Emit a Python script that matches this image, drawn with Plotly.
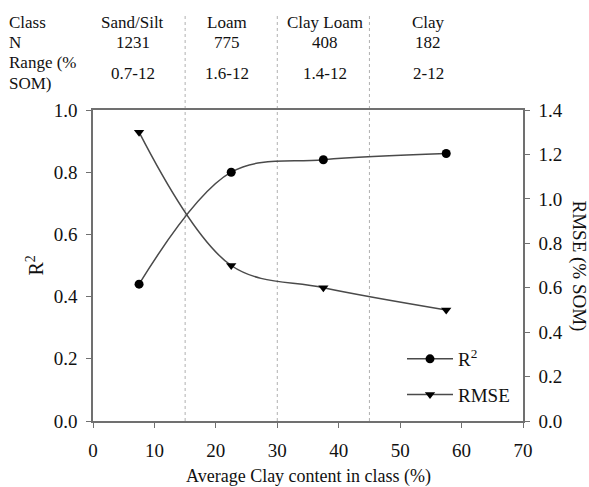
import plotly.graph_objects as go

# Data
clay_x = [7.5, 22.5, 37.5, 57.5]
r2_vals = [0.44, 0.80, 0.84, 0.86]
rmse_vals = [1.30, 0.70, 0.60, 0.50]
class_names = ["Sand/Silt", "Loam", "Clay Loam", "Clay"]
class_n = ["1231", "775", "408", "182"]
class_range = ["0.7-12", "1.6-12", "1.4-12", "2-12"]
class_label_x = [6.5, 21.8, 37.7, 54.6]
class_bounds = [15, 30, 45]

W, H = 589, 487
L, R, T, B = 93, 66, 110, 66
PH = H - T - B
PW = W - L - R

def py(ypix):
    return (H - B - ypix) / PH

def px(xpix):
    return (xpix - L) / PW

FONT = "Liberation Serif"
TXT = "#111111"
AX = "#707070"

fig = go.Figure()
fig.add_trace(go.Scatter(
    x=clay_x, y=r2_vals, name="R<sup>2</sup>", mode="lines+markers",
    line=dict(color="#4a4a4a", width=1.5, shape="spline", smoothing=1.0),
    marker=dict(symbol="circle", size=9, color="black"),
    legendgroup="a", yaxis="y"))
fig.add_trace(go.Scatter(
    x=clay_x, y=rmse_vals, name="RMSE", mode="lines+markers",
    line=dict(color="#4a4a4a", width=1.5, shape="spline", smoothing=1.0),
    marker=dict(symbol="triangle-down", size=9, color="black"),
    legendgroup="b", yaxis="y2"))

shapes = []
for b in class_bounds:
    shapes.append(dict(type="line", xref="x", yref="paper", x0=b, x1=b,
                       y0=0, y1=py(13), line=dict(color="#b0b0b0", width=1, dash="dot"),
                       layer="below"))

ann = []
hdr = dict(xref="paper", yref="paper", showarrow=False,
           font=dict(family=FONT, size=17, color=TXT), yanchor="middle")
ann.append(dict(text="Class", x=px(7), y=py(23), xanchor="left", **hdr))
ann.append(dict(text="N", x=px(7), y=py(43), xanchor="left", **hdr))
ann.append(dict(text="Range (%", x=px(7), y=py(63), xanchor="left", **hdr))
ann.append(dict(text="SOM)", x=px(7), y=py(83), xanchor="left", **hdr))
for xx, nm, n, rg in zip(class_label_x, class_names, class_n, class_range):
    xp = px(L + xx * PW / 70)
    ann.append(dict(text=nm, x=xp, y=py(23), xanchor="center", **hdr))
    ann.append(dict(text=n, x=xp, y=py(43), xanchor="center", **hdr))
    ann.append(dict(text=rg, x=xp, y=py(73), xanchor="center", **hdr))

ann.append(dict(text="RMSE (% SOM)", textangle=90, xref="paper", yref="paper",
                x=px(579), y=0.5, showarrow=False, xanchor="center", yanchor="middle",
                font=dict(family=FONT, size=19, color=TXT)))
ann.append(dict(text="R<sup>2</sup>", textangle=-90, xref="paper", yref="paper",
                x=px(34), y=0.5, showarrow=False, xanchor="center", yanchor="middle",
                font=dict(family=FONT, size=20, color=TXT)))
ann.append(dict(text="Average Clay content in class (%)", xref="paper", yref="paper",
                x=0.5, y=py(476), showarrow=False, xanchor="center", yanchor="middle",
                font=dict(family=FONT, size=18, color=TXT)))

fig.update_layout(
    width=W, height=H,
    margin=dict(l=L, r=R, t=T, b=B, autoexpand=False),
    paper_bgcolor="white", plot_bgcolor="white",
    font=dict(family=FONT, size=19, color=TXT),
    shapes=shapes, annotations=ann,
    xaxis=dict(range=[0, 70], tickvals=[0, 10, 20, 30, 40, 50, 60, 70],
               showline=True, linecolor=AX, linewidth=1.5, mirror=True,
               ticks="outside", ticklen=5, tickcolor=AX, showgrid=False, zeroline=False,
               ticklabelstandoff=6, automargin=False,
               tickfont=dict(family=FONT, size=19, color=TXT)),
    yaxis=dict(range=[0, 1.0], tickvals=[0, 0.2, 0.4, 0.6, 0.8, 1.0], tickformat=".1f",
               showline=True, linecolor=AX, linewidth=1.5,
               ticks="outside", ticklen=5, tickcolor=AX, showgrid=False, zeroline=False,
               ticklabelstandoff=5, automargin=False,
               tickfont=dict(family=FONT, size=19, color=TXT)),
    yaxis2=dict(range=[0, 1.4], tickvals=[0, 0.2, 0.4, 0.6, 0.8, 1.0, 1.2, 1.4],
                tickformat=".1f", overlaying="y", side="right",
                showline=True, linecolor=AX, linewidth=1.5,
                ticks="outside", ticklen=5, tickcolor=AX, showgrid=False, zeroline=False,
                ticklabelstandoff=5, automargin=False,
                tickfont=dict(family=FONT, size=19, color=TXT)),
    legend=dict(x=px(402), y=py(340), xanchor="left", yanchor="top",
                bgcolor="rgba(0,0,0,0)", tracegroupgap=8, itemwidth=46,
                font=dict(family=FONT, size=19, color=TXT)),
    showlegend=True,
)

fig.write_html("out.html")
